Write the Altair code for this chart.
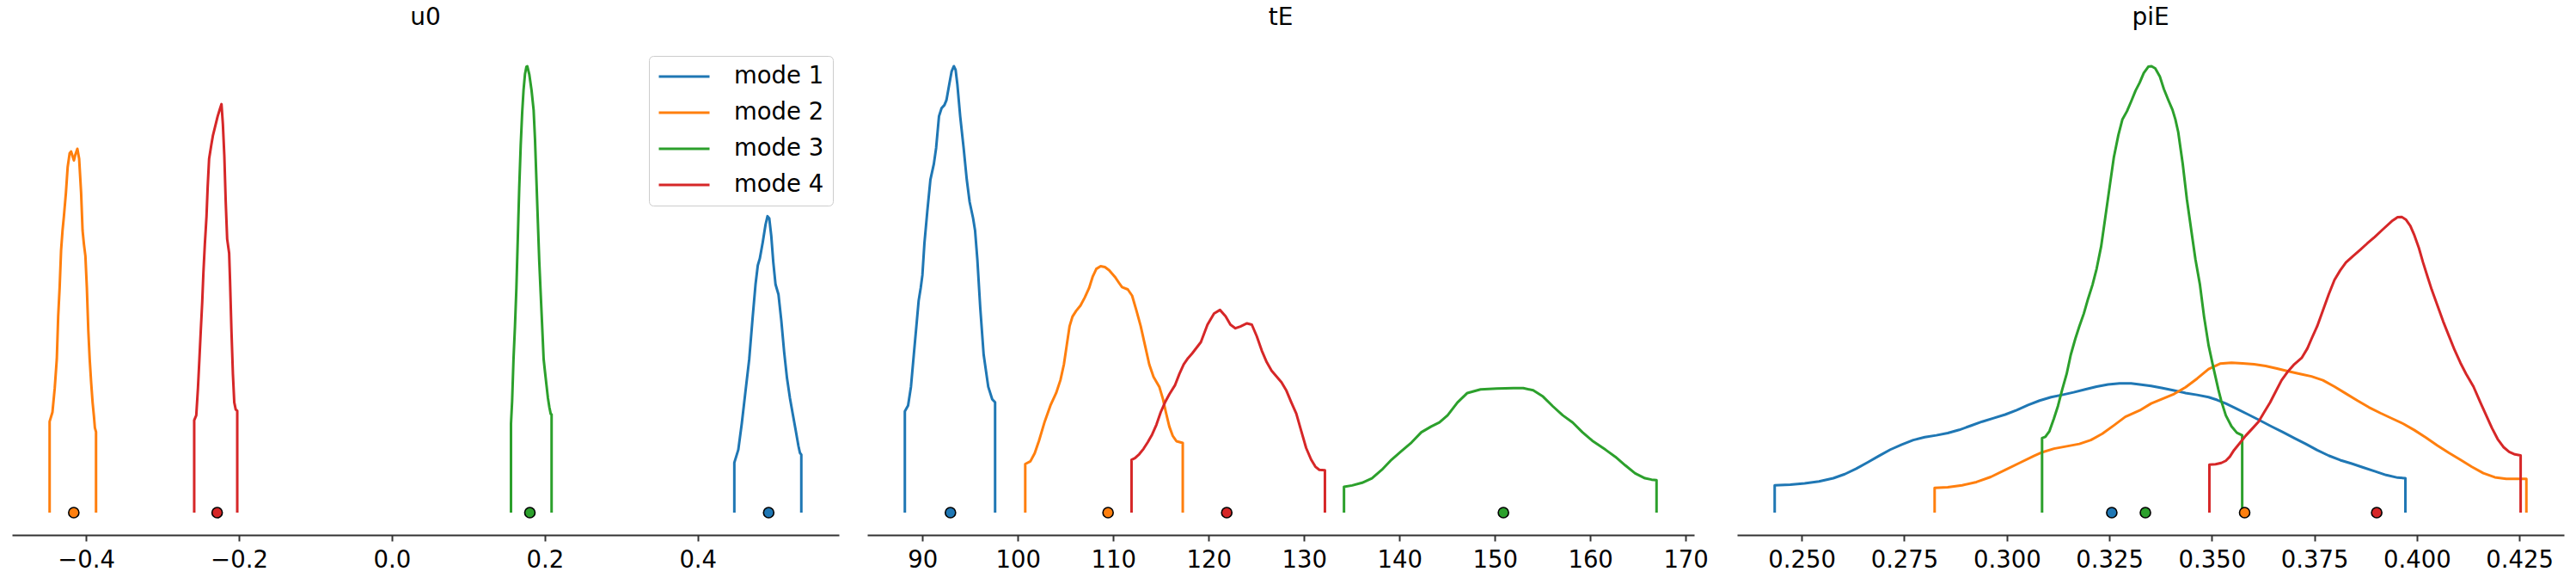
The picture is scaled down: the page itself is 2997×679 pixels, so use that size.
import altair as alt
import pandas as pd

MODES = ["mode 1", "mode 2", "mode 3", "mode 4"]
COLORS = ["#1f77b4", "#ff7f0e", "#2ca02c", "#d62728"]

# ---------------- u0 ----------------
U0_M1_X = [0.4479, 0.4531, 0.4576, 0.4625, 0.4674, 0.4719, 0.4756, 0.4786, 0.4812, 0.4850, 0.4887, 0.4913, 0.4936,
           0.4962, 0.4988, 0.5018, 0.5056, 0.5093, 0.5131, 0.5168, 0.5206, 0.5243, 0.5281, 0.5318, 0.5337, 0.5355]
U0_M1_Y = [0.112, 0.141, 0.199, 0.272, 0.344, 0.438, 0.511, 0.554, 0.569, 0.605, 0.645, 0.664, 0.659,
           0.620, 0.562, 0.511, 0.489, 0.431, 0.359, 0.301, 0.257, 0.221, 0.185, 0.149, 0.134, 0.130]
U0_M2_X = [-0.4476, -0.4439, -0.4409, -0.4382, -0.4364, -0.4345, -0.4326, -0.4307, -0.4289, -0.4263, -0.4240, -0.4214,
           -0.4195, -0.4177, -0.4158, -0.4139, -0.4113, -0.4090, -0.4064, -0.4045, -0.4027, -0.4008, -0.3989, -0.3970,
           -0.3952, -0.3933, -0.3914, -0.3896, -0.3884, -0.3869]
U0_M2_Y = [0.204, 0.225, 0.279, 0.344, 0.439, 0.504, 0.588, 0.632, 0.664, 0.716, 0.774, 0.805, 0.809, 0.799, 0.789,
           0.802, 0.815, 0.793, 0.716, 0.632, 0.601, 0.575, 0.504, 0.408, 0.344, 0.292, 0.247, 0.215, 0.190, 0.181]
U0_M3_X = [0.1558, 0.1573, 0.1591, 0.1610, 0.1629, 0.1648, 0.1666, 0.1685, 0.1704, 0.1722, 0.1741, 0.1760, 0.1771,
           0.1797, 0.1827, 0.1854, 0.1872, 0.1891, 0.1910, 0.1928, 0.1947, 0.1966, 0.1985, 0.2003, 0.2022, 0.2041,
           0.2060, 0.2078, 0.2089]
U0_M3_Y = [0.199, 0.250, 0.344, 0.417, 0.504, 0.620, 0.728, 0.822, 0.895, 0.946, 0.982, 0.999, 1.000,
           0.982, 0.946, 0.902, 0.837, 0.743, 0.649, 0.562, 0.489, 0.417, 0.344, 0.315, 0.286, 0.257,
           0.236, 0.221, 0.220]
U0_M4_X = [-0.2585, -0.2558, -0.2536, -0.2517, -0.2499, -0.2480, -0.2465, -0.2446, -0.2435, -0.2424, -0.2409, -0.2390,
           -0.2360, -0.2341, -0.2314, -0.2278, -0.2249, -0.2228, -0.2210, -0.2191, -0.2173, -0.2154, -0.2128, -0.2117,
           -0.2098, -0.2079, -0.2061, -0.2042, -0.2022]
U0_M4_Y = [0.207, 0.218, 0.279, 0.344, 0.408, 0.472, 0.536, 0.601, 0.632, 0.664, 0.729, 0.793, 0.825, 0.844, 0.863,
           0.888, 0.904, 0.915, 0.870, 0.799, 0.697, 0.613, 0.581, 0.523, 0.408, 0.311, 0.247, 0.231, 0.228]
U0_EST = [0.4928, -0.4160, 0.1805, -0.2285]

# ---------------- tE ----------------
TE_M1_X = [88.16, 88.50, 88.80, 89.10, 89.40, 89.61, 89.82, 90.00, 90.21, 90.51, 90.84, 91.20, 91.44, 91.74, 92.01,
           92.31, 92.52, 92.82, 93.06, 93.30, 93.48, 93.66, 93.96, 94.32, 94.65, 94.95, 95.31, 95.52, 95.76, 96.06,
           96.42, 96.90, 97.32, 97.62]
TE_M1_Y = [0.227, 0.240, 0.282, 0.354, 0.425, 0.475, 0.503, 0.532, 0.603, 0.674, 0.746, 0.781, 0.817, 0.888, 0.906,
           0.913, 0.924, 0.960, 0.988, 1.000, 0.992, 0.960, 0.888, 0.817, 0.746, 0.696, 0.660, 0.632, 0.567, 0.460,
           0.354, 0.282, 0.254, 0.247]
TE_M2_X = [100.78, 101.32, 101.77, 102.22, 102.82, 103.42, 104.02, 104.47, 104.83, 105.13, 105.43, 105.73, 106.12,
           106.57, 107.02, 107.47, 107.84, 108.23, 108.68, 109.13, 109.58, 110.18, 110.63, 110.93, 111.53, 111.98,
           112.43, 112.88, 113.33, 113.78, 114.23, 114.83, 115.22, 115.52, 115.88, 116.24, 116.63, 117.29]
TE_M2_Y = [0.109, 0.115, 0.133, 0.161, 0.204, 0.240, 0.268, 0.297, 0.332, 0.375, 0.418, 0.439, 0.452, 0.464, 0.482,
           0.503, 0.528, 0.546, 0.552, 0.550, 0.543, 0.528, 0.514, 0.505, 0.500, 0.486, 0.453, 0.418, 0.375, 0.332,
           0.304, 0.282, 0.254, 0.225, 0.193, 0.172, 0.160, 0.156]
TE_M3_X = [134.19, 135.05, 136.09, 137.12, 138.16, 139.19, 140.22, 141.26, 142.29, 143.33, 144.19, 145.05, 146.09,
           147.12, 148.50, 150.22, 151.95, 152.98, 154.02, 155.05, 156.09, 157.12, 158.16, 159.19, 160.22, 161.60,
           162.64, 163.67, 164.71, 165.74, 166.43, 166.95]
TE_M3_Y = [0.058, 0.061, 0.067, 0.077, 0.096, 0.119, 0.138, 0.157, 0.180, 0.193, 0.202, 0.218, 0.247, 0.268, 0.276,
           0.278, 0.279, 0.279, 0.274, 0.260, 0.238, 0.218, 0.202, 0.180, 0.161, 0.141, 0.125, 0.106, 0.088, 0.077,
           0.074, 0.073]
TE_M4_X = [111.92, 112.28, 112.73, 113.18, 113.63, 114.08, 114.53, 114.98, 115.43, 115.88, 116.49, 116.94, 117.39,
           117.84, 118.29, 119.19, 119.88, 120.57, 121.19, 121.78, 122.29, 122.81, 123.33, 124.02, 124.53, 125.05,
           125.57, 126.09, 126.60, 127.12, 127.64, 128.16, 128.67, 129.19, 129.71, 130.22, 130.74, 131.19, 131.60,
           132.19]
TE_M4_Y = [0.1185, 0.122, 0.131, 0.143, 0.158, 0.175, 0.197, 0.225, 0.247, 0.265, 0.286, 0.311, 0.332, 0.346, 0.357,
           0.382, 0.421, 0.446, 0.454, 0.440, 0.421, 0.413, 0.417, 0.424, 0.421, 0.395, 0.363, 0.337, 0.318, 0.305,
           0.292, 0.273, 0.247, 0.222, 0.183, 0.145, 0.119, 0.103, 0.096, 0.095]
TE_EST = [92.94, 109.46, 150.90, 121.90]

# ---------------- piE ----------------
PIE_M1_X = [0.2434, 0.2472, 0.2507, 0.2542, 0.2577, 0.2605, 0.2633, 0.2661, 0.2688, 0.2716, 0.2744, 0.2772, 0.2800,
            0.2828, 0.2856, 0.2884, 0.2912, 0.2940, 0.2968, 0.2996, 0.3024, 0.3052, 0.3080, 0.3108, 0.3135, 0.3163,
            0.3191, 0.3219, 0.3247, 0.3275, 0.3303, 0.3324, 0.3352, 0.3380, 0.3408, 0.3436, 0.3464, 0.3492, 0.3513,
            0.3534, 0.3561, 0.3589, 0.3617, 0.3645, 0.3673, 0.3701, 0.3729, 0.3757, 0.3785, 0.3813, 0.3841, 0.3869,
            0.3897, 0.3925, 0.3953, 0.3972]
PIE_M1_Y = [0.0614, 0.0628, 0.0657, 0.0700, 0.0771, 0.0863, 0.0985, 0.1127, 0.1270, 0.1412, 0.1526, 0.1626, 0.1690,
            0.1732, 0.1782, 0.1854, 0.1946, 0.2039, 0.2118, 0.2197, 0.2297, 0.2410, 0.2510, 0.2588, 0.2638, 0.2695,
            0.2759, 0.2823, 0.2873, 0.2894, 0.2894, 0.2873, 0.2838, 0.2788, 0.2738, 0.2680, 0.2638, 0.2588, 0.2524,
            0.2445, 0.2324, 0.2197, 0.2067, 0.1932, 0.1804, 0.1669, 0.1540, 0.1399, 0.1277, 0.1177, 0.1098, 0.1013,
            0.0927, 0.0842, 0.0784, 0.0771]
PIE_M2_X = [0.2824, 0.2856, 0.2891, 0.2926, 0.2961, 0.2996, 0.3031, 0.3066, 0.3087, 0.3115, 0.3149, 0.3177, 0.3205,
            0.3233, 0.3261, 0.3289, 0.3324, 0.3352, 0.3380, 0.3408, 0.3436, 0.3464, 0.3492, 0.3520, 0.3548, 0.3575,
            0.3603, 0.3631, 0.3659, 0.3687, 0.3715, 0.3743, 0.3771, 0.3799, 0.3827, 0.3855, 0.3883, 0.3911, 0.3939,
            0.3967, 0.3994, 0.4022, 0.4050, 0.4078, 0.4106, 0.4134, 0.4162, 0.4190, 0.4218, 0.4246, 0.4267]
PIE_M2_Y = [0.0557, 0.0571, 0.0614, 0.0686, 0.0800, 0.0956, 0.1113, 0.1270, 0.1355, 0.1434, 0.1491, 0.1540, 0.1626,
            0.1768, 0.1954, 0.2146, 0.2289, 0.2445, 0.2553, 0.2659, 0.2809, 0.3002, 0.3216, 0.3337, 0.3358, 0.3345,
            0.3322, 0.3287, 0.3229, 0.3166, 0.3108, 0.3052, 0.2966, 0.2823, 0.2667, 0.2510, 0.2360, 0.2231, 0.2110,
            0.1990, 0.1848, 0.1682, 0.1505, 0.1341, 0.1185, 0.1027, 0.0884, 0.0792, 0.0757, 0.0757, 0.0757]
PIE_M3_X = [0.3086, 0.3094, 0.3104, 0.3115, 0.3125, 0.3135, 0.3146, 0.3156, 0.3167, 0.3177, 0.3188, 0.3198, 0.3209,
            0.3219, 0.3230, 0.3240, 0.3251, 0.3261, 0.3272, 0.3282, 0.3293, 0.3303, 0.3314, 0.3324, 0.3334, 0.3345,
            0.3353, 0.3362, 0.3373, 0.3383, 0.3394, 0.3404, 0.3411, 0.3418, 0.3429, 0.3439, 0.3450, 0.3460, 0.3471,
            0.3481, 0.3492, 0.3502, 0.3509, 0.3516, 0.3523, 0.3534, 0.3548, 0.3561, 0.3574]
PIE_M3_Y = [0.1669, 0.1698, 0.1825, 0.2110, 0.2395, 0.2752, 0.3108, 0.3536, 0.3892, 0.4177, 0.4463, 0.4784, 0.5104,
            0.5461, 0.5960, 0.6601, 0.7314, 0.7956, 0.8455, 0.8811, 0.8990, 0.9204, 0.9453, 0.9630, 0.9846, 0.9988,
            1.0000, 0.9952, 0.9775, 0.9489, 0.9239, 0.9025, 0.8811, 0.8526, 0.7813, 0.7029, 0.6316, 0.5674, 0.5104,
            0.4391, 0.3750, 0.3322, 0.3037, 0.2752, 0.2503, 0.2181, 0.1932, 0.1790, 0.1732]
PIE_M4_X = [0.3494, 0.3509, 0.3523, 0.3534, 0.3544, 0.3554, 0.3568, 0.3582, 0.3600, 0.3614, 0.3628, 0.3642, 0.3656,
            0.3670, 0.3684, 0.3701, 0.3719, 0.3733, 0.3743, 0.3757, 0.3771, 0.3785, 0.3799, 0.3813, 0.3827, 0.3844,
            0.3862, 0.3879, 0.3897, 0.3918, 0.3939, 0.3953, 0.3963, 0.3973, 0.3984, 0.3994, 0.4005, 0.4015, 0.4026,
            0.4036, 0.4050, 0.4064, 0.4078, 0.4092, 0.4106, 0.4120, 0.4138, 0.4155, 0.4169, 0.4183, 0.4197, 0.4211,
            0.4225, 0.4239, 0.4253]
PIE_M4_Y = [0.1077, 0.1084, 0.1113, 0.1162, 0.1256, 0.1399, 0.1555, 0.1718, 0.1896, 0.2039, 0.2253, 0.2466, 0.2717,
            0.2966, 0.3144, 0.3322, 0.3464, 0.3678, 0.3892, 0.4177, 0.4534, 0.4890, 0.5212, 0.5426, 0.5604, 0.5746,
            0.5888, 0.6031, 0.6174, 0.6353, 0.6530, 0.6616, 0.6623, 0.6566, 0.6424, 0.6210, 0.5925, 0.5604, 0.5283,
            0.4998, 0.4642, 0.4285, 0.3963, 0.3643, 0.3358, 0.3108, 0.2823, 0.2466, 0.2181, 0.1896, 0.1647, 0.1470,
            0.1362, 0.1304, 0.1284]
PIE_EST = [0.3256, 0.3580, 0.3338, 0.3902]

U0_TICKS = [-0.4, -0.2, 0.0, 0.2, 0.4]
TE_TICKS = [90, 100, 110, 120, 130, 140, 150, 160, 170]
PIE_TICKS = [0.250, 0.275, 0.300, 0.325, 0.350, 0.375, 0.400, 0.425]

FONT = "DejaVu Sans"
W, H = 962, 571


def build_lines(curves):
    rows = []
    for mode, (xs, ys) in zip(MODES, curves):
        pts = [(xs[0], 0.0)] + list(zip(xs, ys)) + [(xs[-1], 0.0)]
        for i, (x, y) in enumerate(pts):
            rows.append({"mode": mode, "x": x, "y": y, "i": i})
    return pd.DataFrame(rows)


def build_dots(est):
    return pd.DataFrame({"mode": MODES, "x": est, "y": [0.0] * len(est)})


def panel(title, curves, est, ticks, fmt, legend):
    lines = build_lines(curves)
    dots = build_dots(est)
    lo, hi = lines["x"].min(), lines["x"].max()
    pad = 0.05 * (hi - lo)
    xscale = alt.Scale(domain=[lo - pad, hi + pad], nice=False, zero=False)
    yscale = alt.Scale(domain=[-0.05, 1.05], nice=False, zero=False)
    xaxis = alt.Axis(values=ticks, format=fmt, labelFontSize=27.5, labelFont=FONT, labelColor="black",
                     tickColor="#333333", domainColor="#333333", tickWidth=2, domainWidth=2, tickSize=7,
                     labelPadding=8, grid=False, labelFlush=False, labelOverlap=False)
    cscale = alt.Scale(domain=MODES, range=COLORS)
    line = alt.Chart(lines).mark_line(strokeWidth=3, strokeJoin="round").encode(
        x=alt.X("x:Q", scale=xscale, axis=xaxis, title=None),
        y=alt.Y("y:Q", scale=yscale, axis=None),
        color=alt.Color("mode:N", scale=cscale, legend=legend),
        order=alt.Order("i:Q"),
    )
    pts = alt.Chart(dots).mark_circle(size=145, stroke="black", strokeWidth=1.6, opacity=1).encode(
        x=alt.X("x:Q", scale=xscale, axis=xaxis, title=None),
        y=alt.Y("y:Q", scale=yscale, axis=None),
        fill=alt.Fill("mode:N", scale=cscale, legend=None),
    )
    return alt.layer(line, pts).properties(
        width=W, height=H,
        title=alt.TitleParams(text=title, fontSize=28, font=FONT, fontWeight="normal", color="black",
                              offset=-6, baseline="alphabetic", anchor="middle"),
    )


legend1 = alt.Legend(title=None, orient="none", legendX=741, legendY=14, symbolType="stroke", symbolSize=3481,
                     symbolStrokeWidth=3, clipHeight=28, rowPadding=14, labelFontSize=27.5, labelFont=FONT,
                     labelColor="black", labelOffset=27, padding=10, strokeColor="#cccccc",
                     fillColor="rgba(255,255,255,0.8)", cornerRadius=5)

p1 = panel("u0", [(U0_M1_X, U0_M1_Y), (U0_M2_X, U0_M2_Y), (U0_M3_X, U0_M3_Y), (U0_M4_X, U0_M4_Y)],
           U0_EST, U0_TICKS, ".1f", legend1)
p2 = panel("tE", [(TE_M1_X, TE_M1_Y), (TE_M2_X, TE_M2_Y), (TE_M3_X, TE_M3_Y), (TE_M4_X, TE_M4_Y)],
           TE_EST, TE_TICKS, "d", None)
p3 = panel("piE", [(PIE_M1_X, PIE_M1_Y), (PIE_M2_X, PIE_M2_Y), (PIE_M3_X, PIE_M3_Y), (PIE_M4_X, PIE_M4_Y)],
           PIE_EST, PIE_TICKS, ".3f", None)

chart = alt.hconcat(p1, p2, p3, spacing=33).resolve_legend(color="independent").configure_view(
    strokeWidth=0
).properties(padding={"left": 14, "top": 7, "right": 5, "bottom": 5}, background="white")

chart.save("out.html", embed_options={"renderer": "svg", "actions": False})
